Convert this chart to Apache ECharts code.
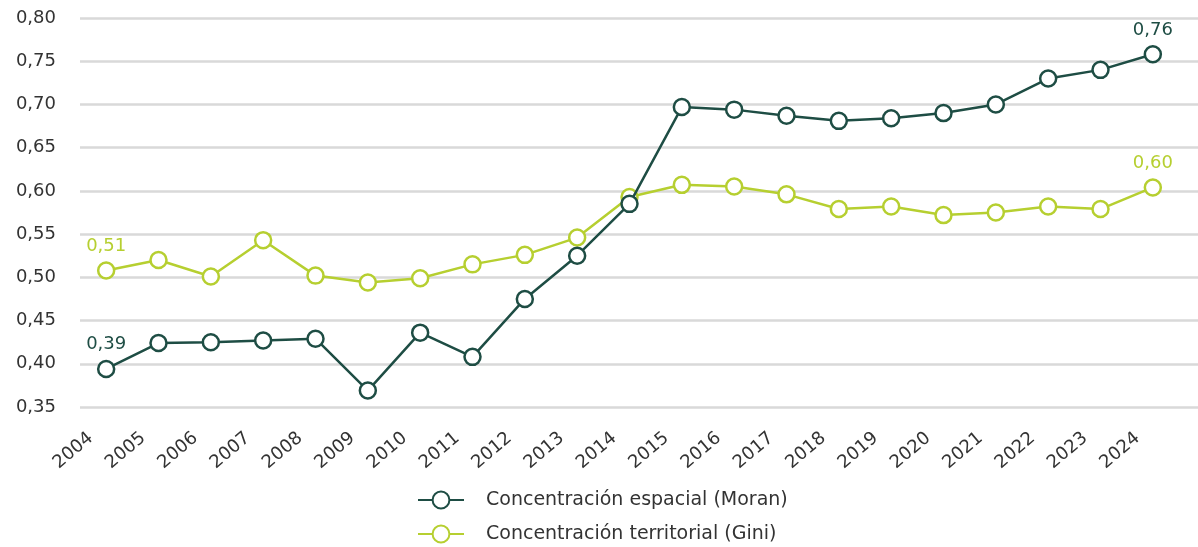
<!DOCTYPE html>
<html>
<head>
<meta charset="utf-8">
<script src="https://cdn.jsdelivr.net/npm/echarts@6/dist/echarts.min.js"></script>
<style>
  html, body { margin: 0; padding: 0; background: #fff; }
  #chart { width: 1198px; height: 547px; }
</style>
</head>
<body>
<div id="chart"></div>
<script>
// años
const years = ['2004', '2005', '2006', '2007', '2008', '2009', '2010', '2011', '2012', '2013', '2014',
  '2015', '2016', '2017', '2018', '2019', '2020', '2021', '2022', '2023', '2024']

// índice de Moran (concentración espacial)
const moran = [0.394, 0.424, 0.425, 0.427, 0.429, 0.369, 0.436, 0.408, 0.475, 0.525, 0.585,
  0.697, 0.694, 0.687, 0.681, 0.684, 0.690, 0.700, 0.730, 0.740, 0.758]

// índice de Gini (concentración territorial)
const gini = [0.508, 0.520, 0.501, 0.543, 0.502, 0.494, 0.499, 0.515, 0.526, 0.546, 0.593,
  0.607, 0.605, 0.596, 0.579, 0.582, 0.572, 0.575, 0.582, 0.579, 0.604]

const seriesNames = ['Concentración espacial (Moran)', 'Concentración territorial (Gini)']
const colors = ['#1e4d44', '#b6cf30']

const fmt = v => v.toFixed(2).replace('.', ',')
const font = '"DejaVu Sans", sans-serif'

// solo etiquetas en el primer y último punto
const withEndLabels = (arr, color) => arr.map((v, i) => {
  if (i === 0 || i === arr.length - 1) {
    return {
      value: v,
      label: {
        show: true,
        position: 'top',
        distance: 6,
        formatter: p => fmt(p.value),
        color: color,
        fontSize: 18,
        fontFamily: font
      }
    }
  }
  return v
})

const chart = echarts.init(document.getElementById('chart'))

const makeSeries = (idx, data) => ({
  name: seriesNames[idx],
  type: 'line',
  data: withEndLabels(data, colors[idx]),
  symbol: 'circle',
  symbolSize: 16,
  lineStyle: { color: colors[idx], width: 2.5 },
  itemStyle: { color: '#fff', borderColor: colors[idx], borderWidth: 2.5 },
  emphasis: { disabled: true },
  z: idx === 0 ? 3 : 2
})

chart.setOption({
  animation: false,
  grid: [
    { left: 80, right: 19, top: 18, bottom: 140 },
    // rejilla a todo el ancho
    { left: 80, right: 0, top: 18, bottom: 140 }
  ],
  legend: {
    orient: 'vertical',
    left: 417,
    top: 489,
    height: 80,
    padding: 0,
    itemWidth: 46,
    itemHeight: 21,
    itemGap: 12,
    textStyle: {
      fontSize: 19,
      lineHeight: 22,
      fontFamily: font,
      color: '#333',
      padding: [0, 0, 0, 17]
    },
    data: seriesNames
  },
  xAxis: [
    {
      type: 'category',
      gridIndex: 0,
      data: years,
      boundaryGap: true,
      axisLine: { show: false },
      axisTick: { show: false },
      axisLabel: {
        rotate: 40,
        margin: 16,
        padding: [0, 20, 0, 0],
        fontSize: 18,
        fontFamily: font,
        color: '#333'
      }
    },
    { type: 'value', gridIndex: 1, show: false }
  ],
  yAxis: [
    {
      type: 'value',
      gridIndex: 0,
      min: 0.35,
      max: 0.8,
      interval: 0.05,
      axisLine: { show: false },
      axisTick: { show: false },
      splitLine: { show: false },
      axisLabel: {
        margin: 24,
        fontSize: 18,
        fontFamily: font,
        color: '#333',
        formatter: fmt
      }
    },
    {
      type: 'value',
      gridIndex: 1,
      min: 0.35,
      max: 0.8,
      interval: 0.05,
      axisLine: { show: false },
      axisTick: { show: false },
      axisLabel: { show: false },
      splitLine: { lineStyle: { color: '#d9d9d9', width: 2.5 } }
    }
  ],
  series: [
    makeSeries(0, moran),
    makeSeries(1, gini)
  ]
})
</script>
</body>
</html>
